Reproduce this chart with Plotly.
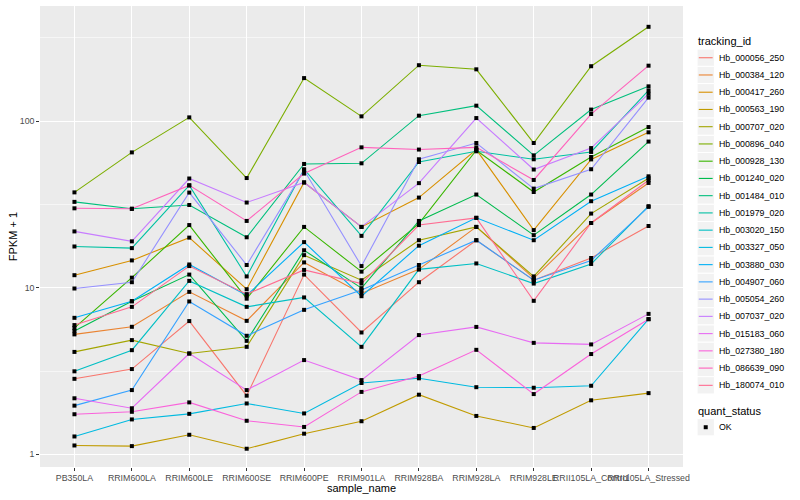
import plotly.graph_objects as go

# ---------------- data ----------------
samples = ["PB350LA", "RRIM600LA", "RRIM600LE", "RRIM600SE", "RRIM600PE",
           "RRIM901LA", "RRIM928BA", "RRIM928LA", "RRIM928LE",
           "RRII105LA_Control", "RRII105LA_Stressed"]

tracking_ids = ["Hb_000056_250", "Hb_000384_120", "Hb_000417_260", "Hb_000563_190",
                "Hb_000707_020", "Hb_000896_040", "Hb_000928_130", "Hb_001240_020",
                "Hb_001484_010", "Hb_001979_020", "Hb_003020_150", "Hb_003327_050",
                "Hb_003880_030", "Hb_004907_060", "Hb_005054_260", "Hb_007037_020",
                "Hb_015183_060", "Hb_027380_180", "Hb_086639_090", "Hb_180074_010"]

colors = ["#F8766D", "#EA8331", "#D89000", "#C09B00", "#A3A500", "#7CAE00", "#39B600",
          "#00BB4E", "#00BF7D", "#00C1A3", "#00BFC4", "#00BAE0", "#00B0F6", "#35A2FF",
          "#9590FF", "#C77CFF", "#E76BF3", "#FA62DB", "#FF62BC", "#FF6C91"]

# FPKM + 1 values, one list per gene, in sample order
hb_000056_250 = [2.84, 3.25, 6.31, 2.25, 12.0, 5.39, 10.8, 19.3, 11.1, 15.1, 23.5]
hb_000384_120 = [5.25, 5.83, 9.45, 6.33, 14.2, 9.25, 12.9, 23.2, 11.4, 24.5, 42.6]
hb_000417_260 = [11.9, 14.6, 20.0, 9.8, 42.9, 23.2, 34.8, 67.6, 22.2, 59.0, 85.8]
hb_000563_190 = [1.13, 1.12, 1.31, 1.08, 1.33, 1.58, 2.28, 1.70, 1.44, 2.11, 2.33]
hb_000707_020 = [4.12, 4.85, 4.03, 4.42, 15.7, 11.1, 19.3, 23.2, 11.7, 27.9, 45.5]
hb_000896_040 = [37.4, 65.0, 105.5, 45.6, 181.6, 107.0, 217.0, 205.0, 74.0, 214.0, 369.0]
hb_000928_130 = [5.74, 11.5, 23.8, 8.6, 23.2, 12.5, 24.3, 67.0, 37.6, 61.0, 92.3]
hb_001240_020 = [5.5, 8.3, 12.0, 4.8, 16.8, 9.95, 25.2, 36.3, 20.7, 36.3, 75.5]
hb_001484_010 = [32.8, 29.8, 31.4, 20.1, 55.4, 55.9, 108.0, 124.0, 62.4, 117.5, 162.0]
hb_001979_020 = [17.7, 17.3, 41.2, 11.7, 51.5, 20.5, 56.9, 66.0, 59.1, 65.4, 153.0]
hb_003020_150 = [3.15, 4.22, 11.0, 7.68, 8.75, 4.42, 12.9, 14.0, 10.6, 13.9, 30.9]
hb_003327_050 = [1.28, 1.62, 1.75, 2.02, 1.76, 2.68, 2.86, 2.53, 2.51, 2.58, 6.48]
hb_003880_030 = [6.6, 8.3, 13.8, 9.0, 18.8, 8.9, 17.9, 26.3, 19.3, 33.1, 46.7]
hb_004907_060 = [1.96, 2.43, 8.28, 5.15, 7.37, 9.7, 13.7, 19.3, 11.1, 14.6, 30.6]
hb_005054_260 = [9.9, 10.8, 37.3, 13.7, 50.8, 13.5, 59.1, 74.0, 39.4, 51.5, 138.6]
hb_007037_020 = [21.8, 19.0, 45.3, 32.5, 42.9, 23.2, 42.5, 104.5, 51.3, 69.0, 146.0]
hb_015183_060 = [2.17, 1.89, 4.03, 2.43, 3.68, 2.79, 5.20, 5.82, 4.67, 4.57, 6.97]
hb_027380_180 = [1.74, 1.80, 2.05, 1.59, 1.46, 2.37, 2.95, 4.24, 2.30, 4.00, 6.48]
hb_086639_090 = [30.0, 29.8, 41.2, 25.2, 48.5, 69.7, 67.6, 69.7, 44.4, 110.5, 215.6]
hb_180074_010 = [5.97, 7.68, 13.5, 9.16, 12.8, 10.6, 23.8, 26.3, 8.35, 24.5, 44.2]

series = [hb_000056_250, hb_000384_120, hb_000417_260, hb_000563_190, hb_000707_020,
          hb_000896_040, hb_000928_130, hb_001240_020, hb_001484_010, hb_001979_020,
          hb_003020_150, hb_003327_050, hb_003880_030, hb_004907_060, hb_005054_260,
          hb_007037_020, hb_015183_060, hb_027380_180, hb_086639_090, hb_180074_010]

quant_levels = ["OK"]
y_ticks = [1, 10, 100]
y_tick_labels = ["1", "10", "100"]

# ---------------- layout geometry (pixels) ----------------
W, H = 800, 500
L, R, T, B = 39.8, 116.8, 5.5, 32.5
PW, PH = W - L - R, H - T - B


def px(x):
    return (x - L) / PW


def py(y):
    return (H - B - y) / PH


FONT = "Liberation Sans, Arial, sans-serif"

fig = go.Figure()

for name, vals, col in zip(tracking_ids, series, colors):
    fig.add_trace(go.Scatter(x=samples, y=vals, mode="lines", name=name,
                             line=dict(color=col, width=1.1), showlegend=False,
                             hoverinfo="skip"))

all_x, all_y = [], []
for vals in series:
    all_x.extend(samples)
    all_y.extend(vals)
fig.add_trace(go.Scatter(x=all_x, y=all_y, mode="markers", name="OK",
                         marker=dict(symbol="square", size=4, color="black",
                                     line=dict(width=0)),
                         showlegend=False, hoverinfo="skip"))

fig.update_layout(
    width=W, height=H,
    margin=dict(l=L, r=R, t=T, b=B, pad=0, autoexpand=False),
    paper_bgcolor="white", plot_bgcolor="#EBEBEB",
    font=dict(family=FONT, color="black"),
    showlegend=False,
    xaxis=dict(type="category", categoryorder="array", categoryarray=samples,
               range=[-0.6, 10.6], showgrid=True, gridcolor="white", gridwidth=1.1,
               zeroline=False, showline=False, ticks="outside", ticklen=2.75,
               tickwidth=1.07, tickcolor="#333333", tickangle=0, automargin=False,
               tickfont=dict(size=8.8, color="#4D4D4D", family=FONT)),
    yaxis=dict(type="log", range=[-0.0762, 2.692], tickvals=y_ticks,
               ticktext=y_tick_labels, showgrid=True, gridcolor="white",
               gridwidth=1.1, zeroline=False, showline=False, ticks="outside",
               ticklen=2.75, tickwidth=1.07, tickcolor="#333333", automargin=False,
               tickfont=dict(size=8.8, color="#4D4D4D", family=FONT),
               minor=dict(tickvals=[3.162, 31.62, 316.2], showgrid=True,
                          gridcolor="white", gridwidth=0.55, ticks="")),
)

ann = []
shapes = []
# axis titles
ann.append(dict(text="sample_name", x=px(L + PW / 2), y=py(488.5), xref="paper",
                yref="paper", showarrow=False, font=dict(size=11, color="black"),
                xanchor="center", yanchor="middle"))
ann.append(dict(text="FPKM + 1", x=px(12.5), y=py(T + (H - T - B) / 2), xref="paper",
                yref="paper", showarrow=False, textangle=-90,
                font=dict(size=11, color="black"), xanchor="center", yanchor="middle"))

# legend: tracking_id
KEY = 17.28
KX = 697.3
ann.append(dict(text="tracking_id", x=px(696.5), y=py(40.7), xref="paper", yref="paper",
                showarrow=False, font=dict(size=11, color="black"),
                xanchor="left", yanchor="middle"))
key_top = 48.7
for i, (name, col) in enumerate(zip(tracking_ids, colors)):
    y0 = key_top + i * KEY
    shapes.append(dict(type="rect", xref="paper", yref="paper", x0=px(KX), x1=px(KX + KEY),
                       y0=py(y0), y1=py(y0 + KEY), fillcolor="#F2F2F2",
                       line=dict(color="white", width=1), layer="above"))
    yc = y0 + KEY / 2
    shapes.append(dict(type="line", xref="paper", yref="paper", x0=px(KX + 1.7),
                       x1=px(KX + KEY - 1.7), y0=py(yc), y1=py(yc),
                       line=dict(color=col, width=1.1), layer="above"))
    ann.append(dict(text=name, x=px(KX + KEY + 2.6), y=py(yc), xref="paper", yref="paper",
                    showarrow=False, font=dict(size=8.8, color="black"),
                    xanchor="left", yanchor="middle"))

# legend: quant_status
q_title = 411.0
ann.append(dict(text="quant_status", x=px(696.5), y=py(q_title), xref="paper", yref="paper",
                showarrow=False, font=dict(size=11, color="black"),
                xanchor="left", yanchor="middle"))
for j, lev in enumerate(quant_levels):
    y0 = q_title + 8.0 + j * KEY
    shapes.append(dict(type="rect", xref="paper", yref="paper", x0=px(KX), x1=px(KX + KEY),
                       y0=py(y0), y1=py(y0 + KEY), fillcolor="#F2F2F2",
                       line=dict(color="white", width=1), layer="above"))
    cx, cy = KX + KEY / 2, y0 + KEY / 2
    shapes.append(dict(type="rect", xref="paper", yref="paper", x0=px(cx - 2), x1=px(cx + 2),
                       y0=py(cy - 2), y1=py(cy + 2), fillcolor="black",
                       line=dict(width=0), layer="above"))
    ann.append(dict(text=lev, x=px(KX + KEY + 2.6), y=py(cy), xref="paper", yref="paper",
                    showarrow=False, font=dict(size=8.8, color="black"),
                    xanchor="left", yanchor="middle"))

fig.update_layout(annotations=ann, shapes=shapes)
fig.write_html(
    "out.html",
    config={"displayModeBar": False, "staticPlot": True},
    post_script="document.body.style.margin='0px';document.body.style.overflow='hidden';",
)
